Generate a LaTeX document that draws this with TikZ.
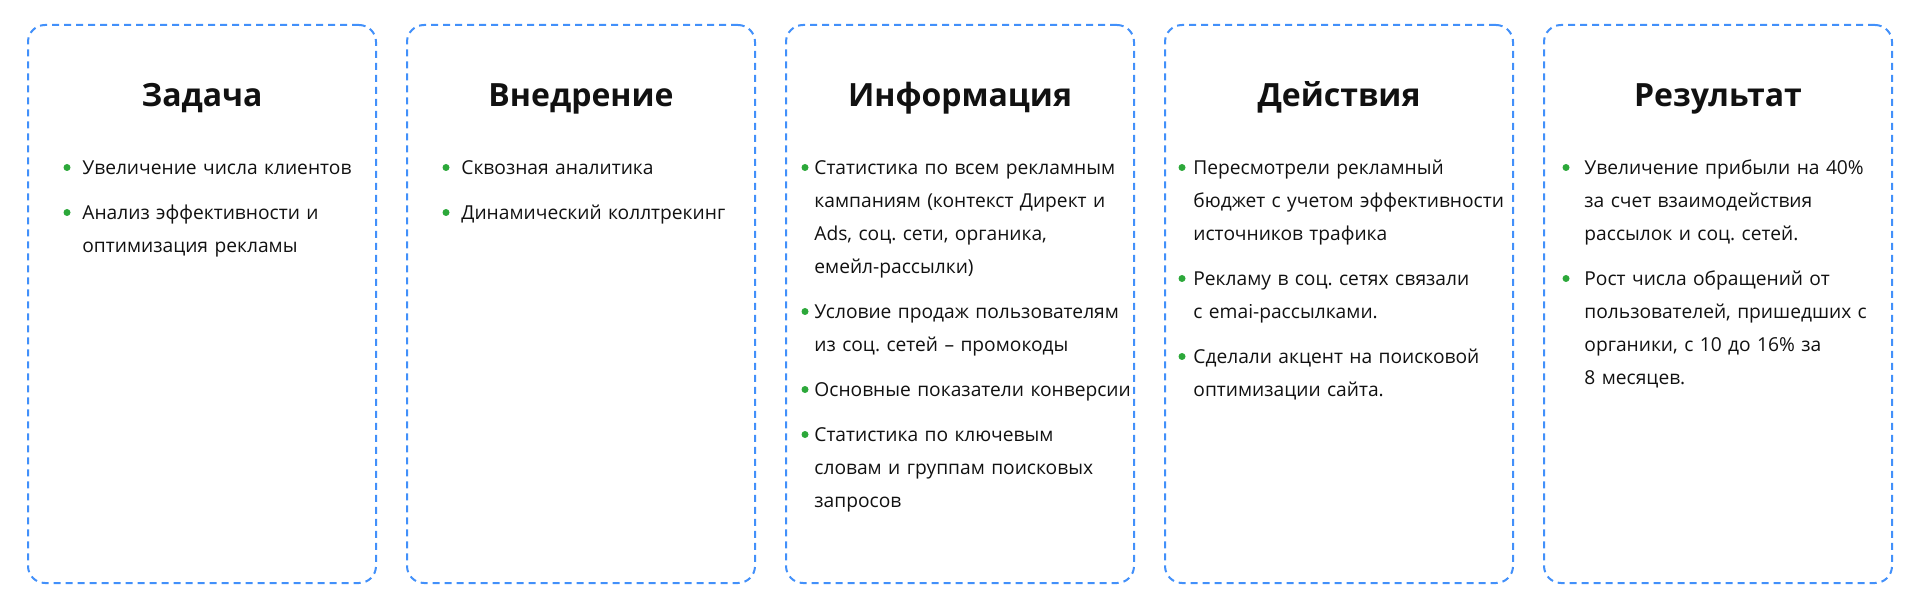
\documentclass[tikz,border=0pt]{standalone}
\usepackage{fontspec}
\setmainfont{Open Sans}
\frenchspacing
\usetikzlibrary{positioning}
\definecolor{CardBlue}{HTML}{4290FA}
\definecolor{DotGreen}{HTML}{2CA83A}
\definecolor{InkBlack}{HTML}{111111}

\begin{document}
\begin{tikzpicture}[x=0.5pt, y=-0.5pt, node distance=15.5pt,
   card/.style={draw=CardBlue, line width=1pt, dash pattern=on 3.5pt off 2.5pt,
                rounded corners=8.5pt, minimum width=174pt, minimum height=279pt,
                inner sep=0pt, outer sep=0pt},
   head/.style={anchor=base, font=\fontsize{16}{19}\selectfont\bfseries, text=InkBlack},
   entry/.style={anchor=base west, inner sep=0pt, text width=160pt, align=left,
                 font=\fontsize{9.6}{16.5}\selectfont, text=InkBlack},
   dot/.style={circle, fill=DotGreen, inner sep=0pt, minimum size=3.5pt}]
  \useasboundingbox (0,0) rectangle (1920,614);
  % fuenf Karten nebeneinander
  \node[card] (zad) at (202,304) {};
  \node[card, right=of zad] (vne) {};
  \node[card, right=of vne] (inf) {};
  \node[card, right=of inf] (dej) {};
  \node[card, right=of dej] (res) {};
  % Ueberschriften
  \node[head] (zad-h) at ([yshift=-41pt]zad.north) {Задача};
  \node[head] (vne-h) at ([yshift=-41pt]vne.north) {Внедрение};
  \node[head] (inf-h) at ([yshift=-41pt]inf.north) {Информация};
  \node[head] (dej-h) at ([yshift=-41pt]dej.north) {Действия};
  \node[head] (res-h) at ([yshift=-41pt]res.north) {Результат};
  % Punkte
  \node[entry] (zad1) at ([xshift=27pt, yshift=-74.75pt]zad.north west) {Увеличение числа клиентов};
  \node[entry] (zad2) at ([yshift=-22.5pt]zad1.base west) {Анализ эффективности и\\оптимизация рекламы};
  \node[entry] (vne1) at ([xshift=27pt, yshift=-74.75pt]vne.north west) {Сквозная аналитика};
  \node[entry] (vne2) at ([yshift=-22.5pt]vne1.base west) {Динамический коллтрекинг};
  \node[entry] (inf1) at ([xshift=14pt, yshift=-74.75pt]inf.north west)
    {Статистика по всем рекламным\\кампаниям (контекст Директ и\\Ads, соц. сети, органика,\\емейл-рассылки)};
  \node[entry] (inf2) at ([yshift=-72pt]inf1.base west) {Условие продаж пользователям\\из соц. сетей – промокоды};
  \node[entry] (inf3) at ([yshift=-39pt]inf2.base west) {Основные показатели конверсии};
  \node[entry] (inf4) at ([yshift=-22.5pt]inf3.base west) {Статистика по ключевым\\словам и группам поисковых\\запросов};
  \node[entry] (dej1) at ([xshift=14pt, yshift=-74.75pt]dej.north west)
    {Пересмотрели рекламный\\бюджет с учетом эффективности\\источников трафика};
  \node[entry] (dej2) at ([yshift=-55.5pt]dej1.base west) {Рекламу в соц. сетях связали\\с emai-рассылками.};
  \node[entry] (dej3) at ([yshift=-39pt]dej2.base west) {Сделали акцент на поисковой\\оптимизации сайта.};
  \node[entry] (res1) at ([xshift=20pt, yshift=-74.75pt]res.north west)
    {Увеличение прибыли на 40\%\\за счет взаимодействия\\рассылок и соц. сетей.};
  \node[entry] (res2) at ([yshift=-55.5pt]res1.base west)
    {Рост числа обращений от\\пользователей, пришедших с\\органики, с 10 до 16\% за\\8 месяцев.};
  % gruene Punkte
  \foreach \n in {zad1,zad2,vne1,vne2}
    \node[dot] (\n-dot) at ([xshift=-7.5pt, yshift=3.5pt]\n.base west) {};
  \foreach \n in {inf1,inf2,inf3,inf4}
    \node[dot] (\n-dot) at ([xshift=-4.5pt, yshift=3.5pt]\n.base west) {};
  \foreach \n in {dej1,dej2,dej3}
    \node[dot] (\n-dot) at ([xshift=-5.5pt, yshift=3.5pt]\n.base west) {};
  \foreach \n in {res1,res2}
    \node[dot] (\n-dot) at ([xshift=-9pt, yshift=3.5pt]\n.base west) {};
\end{tikzpicture}
\end{document}
